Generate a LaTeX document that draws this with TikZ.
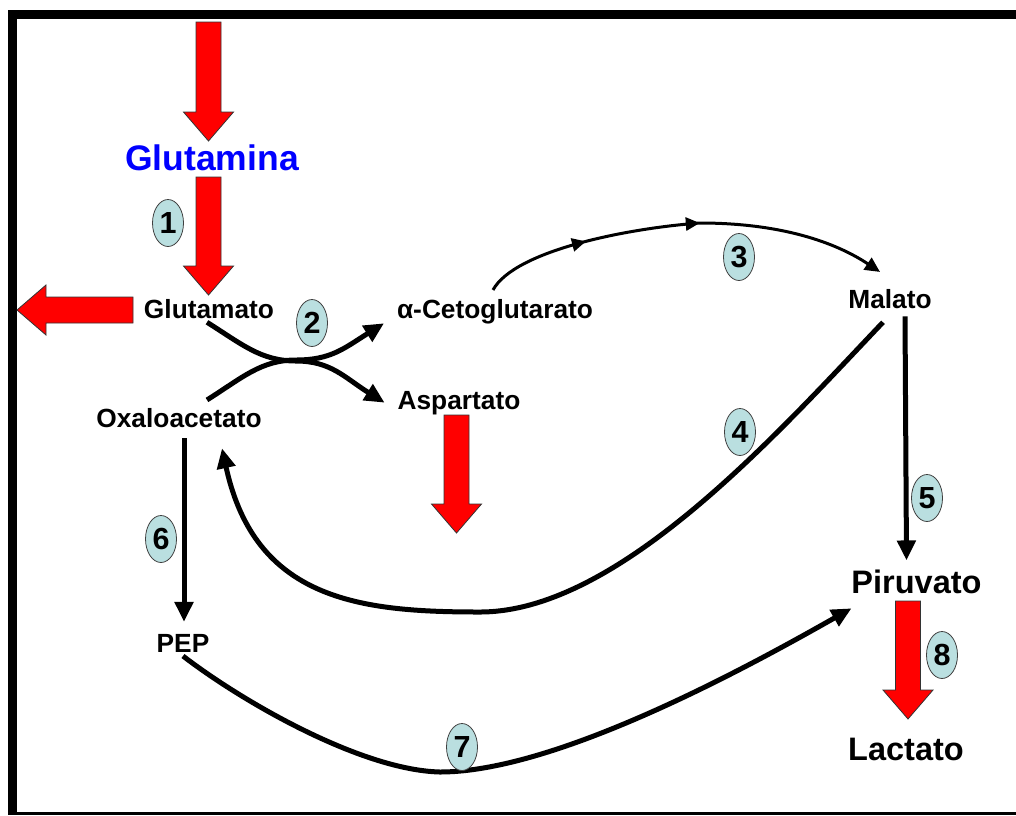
\documentclass[tikz,border=0pt]{standalone}
\usepackage{fontspec}
\setmainfont{Liberation Sans}
\usetikzlibrary{arrows.meta,shapes.geometric,decorations.markings}
\definecolor{stepfill}{HTML}{BADFE0}
\definecolor{pureblue}{HTML}{0000FF}
\definecolor{pured}{HTML}{FF0000}

\begin{document}
\begin{tikzpicture}[x=1pt,y=-1pt,
  lbl/.style={font=\bfseries\fontsize{26.3}{30}\selectfont, inner sep=4pt, outer sep=0pt, anchor=base},
  biglbl/.style={lbl, font=\bfseries\fontsize{32.5}{38}\selectfont},
  num/.style={ellipse, draw=black!75, line width=0.8pt, fill=stepfill,
    minimum width=31pt, minimum height=47pt, inner sep=0pt,
    font=\bfseries\fontsize{30.5}{31}\selectfont},
  flow/.style={line width=5pt, -{Triangle[length=20pt,width=18pt]}},
  thinflow/.style={line width=3pt, -{Triangle[length=15pt,width=14pt]}},
  block/.style={fill=pured, draw=black!80, line width=0.8pt, line join=miter},
  pics/downblock/.style={code={
    \path[block] (-12.5,0) -- (12.5,0) -- (12.5,{#1-29}) -- (25,{#1-29})
      -- (0,#1) -- (-25,{#1-29}) -- (-12.5,{#1-29}) -- cycle;}}
]
\useasboundingbox (0,0) rectangle (1016,815);

% frame
\fill (8,10) rectangle (1016,19);
\fill (8,10) rectangle (17,815);
\fill (8,812) rectangle (1016,815);

% metabolites
\node[lbl, font=\bfseries\fontsize{35.5}{40}\selectfont, text=pureblue] (gln) at (212,170) {Glutamina};
\node[lbl] (glu)   at (209,318) {Glutamato};
\node[lbl] (aceto) at (495,318) {α-Cetoglutarato};
\node[lbl] (asp)   at (459,409) {Aspartato};
\node[lbl] (oxa)   at (179,427) {Oxaloacetato};
\node[lbl] (mal)   at (890,308) {Malato};
\node[lbl] (pep)   at (183,652) {PEP};
\node[biglbl] (piru) at (916.5,593) {Piruvato};
\node[biglbl] (lac)  at (906,760) {Lactato};

% red block arrows
\pic at (208.5,22) {downblock=119};
\pic at (208.5,177) {downblock=118};
\pic at (456.5,415) {downblock=118};
\pic at (908,601) {downblock=118};
\path[block] (133,297) -- (133,323) -- (46,323) -- (46,335) -- (17,310)
  -- (46,285) -- (46,297) -- cycle;

% reaction 2: transamination (crossing arrows)
\draw[flow] ([xshift=-2pt]glu.south)
  .. controls +(35,22) and +(-35,0) .. (296,361)
  .. controls +(35,0) and +(-40,-25) .. ([xshift=-9pt]asp.west);
\draw[flow] ([xshift=28pt,yshift=4pt]oxa.north)
  .. controls +(35,-22) and +(-35,0) .. (296,360)
  .. controls +(35,0) and +(-40,25) .. ([xshift=-9pt,yshift=-12pt]aceto.west);

% reaction 3: alpha-ketoglutarate to malate
\draw[thinflow, postaction={decorate}, decoration={markings,
    mark=at position 0.26 with {\arrow{Triangle[length=14pt,width=13pt]}},
    mark=at position 0.54 with {\arrow{Triangle[length=14pt,width=13pt]}}}]
  ([xshift=-2pt,yshift=5pt]aceto.north)
  .. controls +(22,-40) and +(-70,5) .. (700,223)
  .. controls +(80,0) and +(-45,-30) .. ([xshift=-10pt,yshift=13pt]mal.north);

% reaction 4: malate back to oxaloacetate
\draw[flow] ([xshift=-7pt,yshift=-10pt]mal.south)
  .. controls +(-103,108) and +(140,0) .. (480,612)
  .. controls +(-120,0) and +(33,152) .. ([xshift=43pt,yshift=-17pt]oxa.south);

% reaction 5: malate to pyruvate
\draw[flow] ([xshift=15pt,yshift=-4pt]mal.south) -- ([xshift=-10pt,yshift=5pt]piru.north);

% reaction 6: oxaloacetate to PEP
\draw[flow] ([xshift=5pt,yshift=-7pt]oxa.south) -- ([xshift=1pt,yshift=8pt]pep.north);

% reaction 7: PEP to pyruvate
\draw[flow] (pep.south)
  .. controls +(57,44) and +(-80,-2) .. (440,772)
  .. controls +(120,0) and +(-92,52) .. ([xshift=4pt,yshift=-11pt]piru.south west);

% step numbers
\node[num] (n1) at (168,223) {1};
\node[num] (n2) at (312,323) {2};
\node[num] (n3) at (739,257) {3};
\node[num] (n4) at (740,432) {4};
\node[num] (n5) at (927,498) {5};
\node[num] (n6) at (161,539) {6};
\node[num] (n7) at (462,747) {7};
\node[num] (n8) at (942,655) {8};
\end{tikzpicture}
\end{document}
